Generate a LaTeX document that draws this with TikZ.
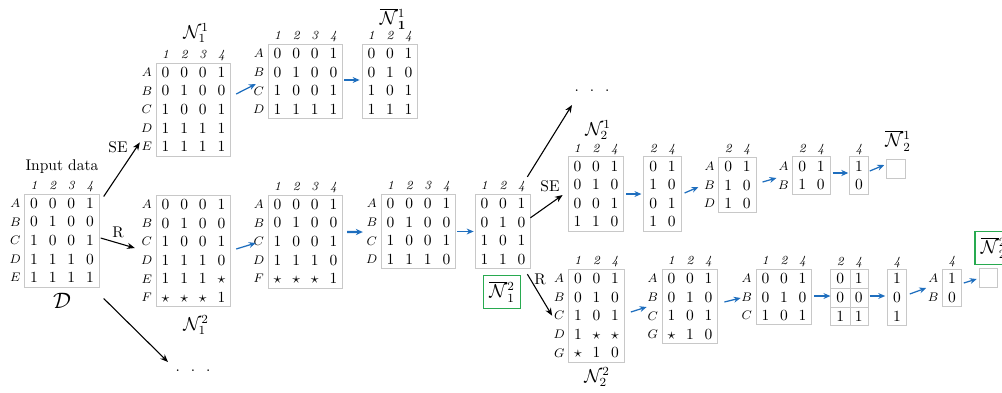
\documentclass[tikz,border=0pt]{standalone}
\usetikzlibrary{matrix,arrows.meta}
\definecolor{boxgray}{RGB}{200,200,200}
\definecolor{arrblue}{RGB}{30,110,190}
\definecolor{boxgreen}{RGB}{40,170,80}
\tikzset{
  mat/.style={matrix of math nodes, draw=boxgray, line width=0.6pt, inner sep=0pt,
    row sep=0pt, column sep=0pt,
    nodes={minimum width=12pt, minimum height=12pt, inner sep=0pt,
      text height=6.5pt, text depth=0pt, anchor=center}},
  ebox/.style={draw=boxgray, line width=0.6pt, minimum width=12pt, minimum height=12pt, inner sep=0pt},
  hd/.style={anchor=base, inner sep=0pt, font=\footnotesize\itshape},
  rl/.style={font=\footnotesize, inner sep=0pt},
  ttl/.style={font=\large, inner sep=0pt},
  gbox/.style={draw=boxgreen, line width=0.8pt, font=\large, minimum width=23.9pt, minimum height=21.3pt, inner sep=0pt},
  lbl/.style={inner sep=0pt},
  dotsn/.style={inner sep=0pt},
  karrow/.style={-{Stealth[length=5pt,width=4pt]}, line width=0.7pt, black},
  barrow/.style={-{Stealth[length=4.5pt,width=3.8pt]}, line width=0.8pt, arrblue},
  bthick/.style={-{Stealth[length=4.5pt,width=4pt]}, line width=1.3pt, arrblue},
}
\newcommand\hds[2]{\foreach \cc/\hh in {#2}{\node[hd] (#1-h\cc) at ([shift={(0,-4)}]#1-1-\cc.north) {\hh};}}
\newcommand\rls[2]{\foreach \rr/\lb in {#2}{\node[rl] (#1-r\rr) at ([shift={(-9,0)}]#1-\rr-1.west) {$\lb$};}}
\begin{document}
\begin{tikzpicture}[x=0.645pt,y=-0.645pt]
\useasboundingbox (0,0) rectangle (1002,392);

% ---------- input data
\matrix (D) [mat] at (62,240.5) {0&0&0&1\\0&1&0&0\\1&0&0&1\\1&1&1&0\\1&1&1&1\\};
\hds{D}{1/1,2/2,3/3,4/4}
\rls{D}{1/A,2/B,3/C,4/D,5/E}
\node[lbl] (inp) at (62,167) {Input data};
\node[ttl,font=\Large] (Dl) at (62,301) {$\mathcal{D}$};

% ---------- top branch N_1^1
\matrix (N11) [mat] at (193.5,109.5) {0&0&0&1\\0&1&0&0\\1&0&0&1\\1&1&1&1\\1&1&1&1\\};
\hds{N11}{1/1,2/2,3/3,4/4}
\rls{N11}{1/A,2/B,3/C,4/D,5/E}
\node[ttl] (N11t) at (196,33) {$\mathcal{N}_1^1$};

\matrix (m11b) [mat] at (305.5,81.5) {0&0&0&1\\0&1&0&0\\1&0&0&1\\1&1&1&1\\};
\hds{m11b}{1/1,2/2,3/3,4/4}
\rls{m11b}{1/A,2/B,3/C,4/D}

\matrix (m11c) [mat] at (390,81.5) {0&0&1\\0&1&0\\1&0&1\\1&1&1\\};
\hds{m11c}{1/1,2/2,3/4}
\node[ttl] (m11ct) at (393,19) {$\overline{\mathcal{N}}{}^1_{\mathbf{1}}$};

% ---------- bottom branch N_1^2
\matrix (N12) [mat] at (193.5,251) {0&0&0&1\\0&1&0&0\\1&0&0&1\\1&1&1&0\\1&1&1&\star\\\star&\star&\star&1\\};
\rls{N12}{1/A,2/B,3/C,4/D,5/E,6/F}
\node[ttl] (N12t) at (196,325) {$\mathcal{N}_1^2$};

\matrix (m12b) [mat] at (305.5,241.5) {0&0&0&1\\0&1&0&0\\1&0&0&1\\1&1&1&0\\\star&\star&\star&1\\};
\hds{m12b}{1/1,2/2,3/3,4/4}
\rls{m12b}{1/A,2/B,3/C,4/D,5/F}

\matrix (m12c) [mat] at (418.5,231.5) {0&0&0&1\\0&1&0&0\\1&0&0&1\\1&1&1&0\\};
\hds{m12c}{1/1,2/2,3/3,4/4}
\rls{m12c}{1/A,2/B,3/C,4/D}

\matrix (m12d) [mat] at (503,231.5) {0&0&1\\0&1&0\\1&0&1\\1&1&0\\};
\hds{m12d}{1/1,2/2,3/4}
\node[gbox] (Nb12) at (502,292) {$\overline{\mathcal{N}}{}^2_1$};

% ---------- N_2^1 chain
\matrix (N21) [mat] at (596,194) {0&0&1\\0&1&0\\0&0&1\\1&1&0\\};
\hds{N21}{1/1,2/2,3/4}
\node[ttl] (N21t) at (598,130) {$\mathcal{N}_2^1$};

\matrix (m21b) [mat] at (662.5,194) {0&1\\1&0\\0&1\\1&0\\};
\hds{m21b}{1/2,2/4}

\matrix (m21c) [mat] at (737.5,185) {0&1\\1&0\\1&0\\};
\hds{m21c}{1/2,2/4}
\rls{m21c}{1/A,2/B,3/D}

\matrix (m21d) [mat] at (811.5,175.5) {0&1\\1&0\\};
\hds{m21d}{1/2,2/4}
\rls{m21d}{1/A,2/B}

\matrix (m21e) [mat] at (859,175.5) {1\\0\\};
\hds{m21e}{1/4}

\node[ebox] (e1) at (896,169) {};
\node[ttl] (e1t) at (898,141) {$\overline{\mathcal{N}}{}^1_2$};

% ---------- N_2^2 chain
\matrix (N22) [mat] at (596.5,315.7) {0&0&1\\0&1&0\\1&0&1\\1&\star&\star\\\star&1&0\\};
\hds{N22}{1/1,2/2,3/4}
\rls{N22}{1/A,2/B,3/C,4/D,5/G}
\node[ttl] (N22t) at (597,377) {$\mathcal{N}_2^2$};

\matrix (m22b) [mat] at (690,306.5) {0&0&1\\0&1&0\\1&0&1\\\star&1&0\\};
\hds{m22b}{1/1,2/2,3/4}
\rls{m22b}{1/A,2/B,3/C,4/G}

\matrix (m22c) [mat] at (784,297) {0&0&1\\0&1&0\\1&0&1\\};
\hds{m22c}{1/1,2/2,3/4}
\rls{m22c}{1/A,2/B,3/C}

\matrix (m22d) [mat] at (849.5,297.5) {0&1\\0&0\\1&1\\};
\hds{m22d}{1/2,2/4}
\draw[draw=boxgray, line width=0.6pt] (m22d-1-1.north east) -- (m22d-3-1.south east);
\draw[draw=boxgray, line width=0.6pt] (m22d-1-1.south west) -- (m22d-1-2.south east);
\draw[draw=boxgray, line width=0.6pt] (m22d-2-1.south west) -- (m22d-2-2.south east);

\matrix (m22e) [mat] at (897,297.5) {1\\0\\1\\};
\hds{m22e}{1/4}

\matrix (m22f) [mat] at (952,288) {1\\0\\};
\hds{m22f}{1/4}
\rls{m22f}{1/A,2/B}

\node[ebox] (e2) at (988.5,278) {};
\node[gbox] (Nb22) at (993.5,248) {$\overline{\mathcal{N}}{}^2_2$};

% ---------- ellipses
\node[dotsn] (dotsT) at (592,91) {.\hspace{7pt}.\hspace{7pt}.};
\node[dotsn] (dotsB) at (193,371) {.\hspace{7pt}.\hspace{7pt}.};

% ---------- black arrows
\draw[karrow] ([shift={(4,3)}]D.north east) -- ([shift={(-16,-14)}]N11.south west);
\node[lbl] (se1) at (118,147) {SE};
\draw[karrow] ([shift={(1,-2.5)}]D.east) -- ([shift={(-21,-3)}]N12.west);
\node[lbl] (r1) at (118,232) {R};
\draw[karrow] ([shift={(4,11)}]D.south east) -- ([shift={(-25,-9)}]dotsB.center);

\draw[karrow] ([shift={(-1,24)}]m12d.north east) -- ([shift={(-5,1)}]N21.west);
\node[lbl] (se2) at (550,186) {SE};
\draw[karrow] ([shift={(-4,-17)}]m12d.north east) -- ([shift={(-20,14)}]dotsT.center);
\draw[karrow] ([shift={(-4,5)}]m12d.south east) -- ([shift={(-16,0)}]N22.west);
\node[lbl] (r2) at (540,279) {R};

% ---------- blue arrows
\draw[barrow] ([shift={(5,-15.5)}]N11.east) -- ([shift={(-12,2.5)}]m11b.west);
\draw[barrow] ([shift={(1,-1.5)}]m11b.east) -- ([shift={(-2,-1.5)}]m11c.west);
\draw[barrow] ([shift={(5,-2)}]N12.east) -- ([shift={(-12,1.5)}]m12b.west);
\draw[bthick] ([shift={(4,-9.5)}]m12b.east) -- ([shift={(-18,0.5)}]m12c.west);
\draw[barrow] ([shift={(1,0)}]m12c.east) -- ([shift={(-1,0)}]m12d.west);
\draw[barrow] ([shift={(2,0)}]N21.east) -- ([shift={(-2,0)}]m21b.west);
\draw[barrow] ([shift={(3,-1)}]m21b.east) -- ([shift={(-20,2)}]m21c.west);
\draw[barrow] ([shift={(6,-3)}]m21c.east) -- ([shift={(-16,2.5)}]m21d.west);
\draw[bthick] ([shift={(2,-2.5)}]m21d.east) -- ([shift={(-1,-2.5)}]m21e.west);
\draw[barrow] ([shift={(1,-4.5)}]m21e.east) -- ([shift={(-2,-4)}]e1.west);
\draw[barrow] ([shift={(6,-3.7)}]N22.east) -- ([shift={(-15,0.5)}]m22b.west);
\draw[barrow] ([shift={(6,-4.5)}]m22b.east) -- ([shift={(-15,1)}]m22c.west);
\draw[barrow] ([shift={(2,-1)}]m22c.east) -- ([shift={(0,-1.5)}]m22d.west);
\draw[barrow] ([shift={(1,-1.5)}]m22d.east) -- ([shift={(-2,-1.5)}]m22e.west);
\draw[barrow] ([shift={(3,-3.5)}]m22e.east) -- ([shift={(-16,0)}]m22f.west);
\draw[barrow] ([shift={(2,-5)}]m22f.east) -- ([shift={(-2,1)}]e2.west);
\end{tikzpicture}
\end{document}
